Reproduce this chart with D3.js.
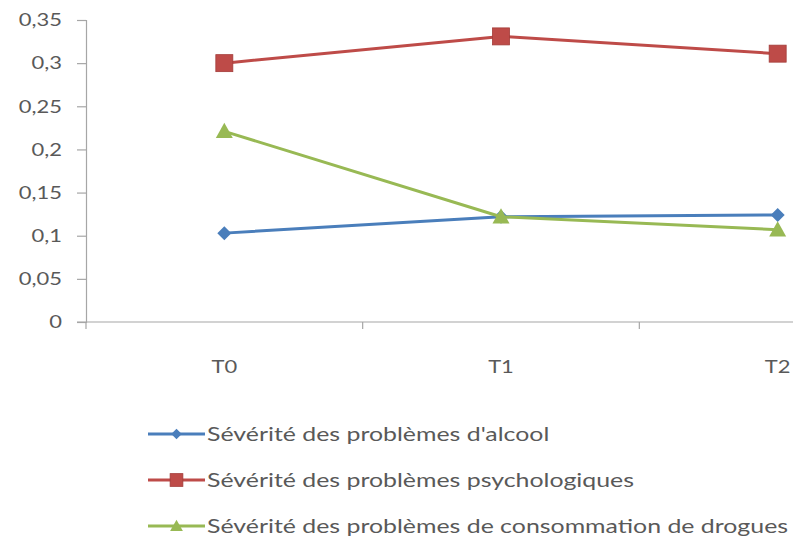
<!DOCTYPE html>
<html>
<head>
<meta charset="utf-8">
<script src="https://cdn.jsdelivr.net/npm/d3@7"></script>
<style>
  html, body { margin: 0; padding: 0; background: #fff; }
  svg { display: block; }
  text { font-family: Lato, "Open Sans", sans-serif; fill: #595959; }
</style>
</head>
<body>
<svg id="chart" width="793" height="548"></svg>
<script>
// Time points
const categories = ["T0", "T1", "T2"];

// Series labels
const seriesNames = [
  "Sévérité des problèmes d'alcool",
  "Sévérité des problèmes psychologiques",
  "Sévérité des problèmes de consommation de drogues"
];

// Series values
const alcool = [0.103, 0.122, 0.124];
const psycho = [0.300, 0.331, 0.311];
const drogues = [0.221, 0.122, 0.107];

// Y axis tick values and labels
const yTicks = [0, 0.05, 0.1, 0.15, 0.2, 0.25, 0.3, 0.35];
const yTickLabels = ["0", "0,05", "0,1", "0,15", "0,2", "0,25", "0,3", "0,35"];

const colors = ["#4a7ebb", "#be4b48", "#98b954"];
const shapes = ["diamond", "square", "triangle"];
const seriesValues = [alcool, psycho, drogues];

// Horizontal widening applied to the text (wide, Calibri-like lettering)
const axisStretch = 1.22;
const legendStretch = 1.31;

const svg = d3.select("#chart");

// Plot area runs past the right edge of the view
const plot = { left: 86, right: 916, top: 20, bottom: 322 };

const x = d3.scaleBand().domain(categories).range([plot.left, plot.right]);
const y = d3.scaleLinear().domain([0, 0.35]).range([plot.bottom, plot.top]);

// Place a text element at x0 while widening it horizontally by k
function stretchText(sel, x0, k) {
  sel.attr("x", x0 / k).attr("transform", `scale(${k},1)`);
}

// Y axis
const yAxis = d3.axisLeft(y)
  .tickValues(yTicks)
  .tickFormat((d, i) => yTickLabels[i])
  .tickSize(9)
  .tickPadding(15);
const gy = svg.append("g").attr("transform", `translate(${plot.left},0)`).call(yAxis);
gy.select(".domain").attr("stroke", "#a6a6a6").attr("stroke-width", 1.2);
gy.selectAll(".tick line").attr("stroke", "#a6a6a6").attr("stroke-width", 1.2);
gy.selectAll(".tick text")
  .attr("font-size", 18)
  .style("font-family", "Lato, sans-serif")
  .attr("fill", "#595959")
  .each(function () { stretchText(d3.select(this), -24, axisStretch); });

// X axis line with ticks at band boundaries
const gx = svg.append("g");
gx.append("line")
  .attr("x1", plot.left - 9).attr("x2", plot.right)
  .attr("y1", plot.bottom).attr("y2", plot.bottom)
  .attr("stroke", "#a6a6a6").attr("stroke-width", 1.2);
const boundaries = categories.map(c => x(c)).concat([x(categories[categories.length - 1]) + x.bandwidth()]);
gx.selectAll("line.tk").data(boundaries).join("line")
  .attr("class", "tk")
  .attr("x1", d => d).attr("x2", d => d)
  .attr("y1", plot.bottom).attr("y2", plot.bottom + 7)
  .attr("stroke", "#a6a6a6").attr("stroke-width", 1.2);
gx.selectAll("text").data(categories).join("text")
  .attr("y", 373)
  .attr("text-anchor", "middle")
  .attr("font-size", 18)
  .text(d => d)
  .each(function (d) { stretchText(d3.select(this), x(d) + x.bandwidth() / 2, axisStretch); });

const cx = d => x(d) + x.bandwidth() / 2;

function drawMarker(g, shape, color, px, py, scale) {
  const s = scale || 1;
  if (shape === "square") {
    const h = 8.5 * s;
    g.append("rect").attr("x", px - h).attr("y", py - h)
      .attr("width", 2 * h).attr("height", 2 * h)
      .attr("fill", color).attr("stroke", "#a33c39").attr("stroke-width", 0.8);
  } else if (shape === "diamond") {
    const h = 7 * s;
    g.append("path")
      .attr("d", `M${px},${py - h}L${px + h},${py}L${px},${py + h}L${px - h},${py}Z`)
      .attr("fill", color);
  } else {
    const h = 8.5 * s;
    g.append("path")
      .attr("d", `M${px},${py - h}L${px + h},${py + h * 0.8}L${px - h},${py + h * 0.8}Z`)
      .attr("fill", color);
  }
}

const line = d3.line().x((d, i) => cx(categories[i])).y(d => y(d));

// Series lines and markers
seriesValues.forEach((vals, si) => {
  const g = svg.append("g");
  g.append("path").datum(vals)
    .attr("d", line)
    .attr("fill", "none")
    .attr("stroke", colors[si])
    .attr("stroke-width", 3)
    .attr("stroke-linejoin", "round");
  vals.forEach((v, i) => drawMarker(g, shapes[si], colors[si], cx(categories[i]), y(v), 1));
});

// Legend
const legend = svg.append("g");
const legendY = [434, 480, 526];
seriesNames.forEach((name, i) => {
  const g = legend.append("g");
  g.append("line").attr("x1", 148).attr("x2", 205)
    .attr("y1", legendY[i]).attr("y2", legendY[i])
    .attr("stroke", colors[i]).attr("stroke-width", 3);
  drawMarker(g, shapes[i], colors[i], 176.5, legendY[i], 0.75);
  g.append("text").attr("y", legendY[i] + 7)
    .attr("font-size", 19).text(name)
    .each(function () { stretchText(d3.select(this), 207, legendStretch); });
});
</script>
</body>
</html>
